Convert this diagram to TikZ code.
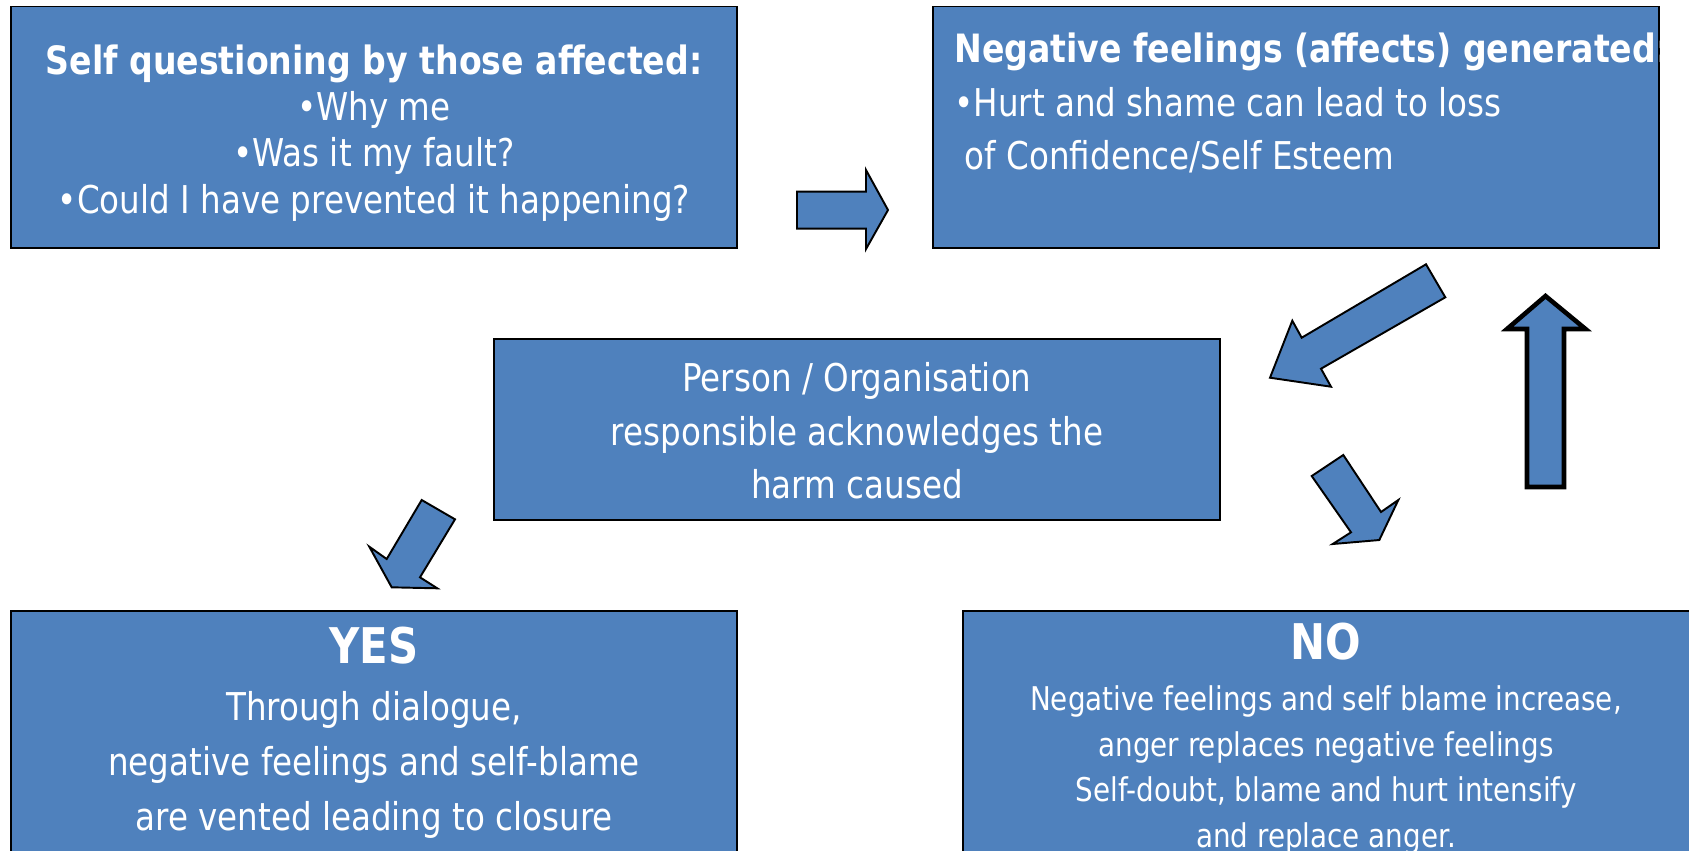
\documentclass[tikz,border=0pt]{standalone}
\usepackage{fontspec}
\setmainfont{DejaVu Sans}[FakeStretch=0.85]
\definecolor{boxblue}{RGB}{79,129,189}
\begin{document}
\begin{tikzpicture}[x=0.02cm,y=-0.02cm]

\tikzset{
    panel/.style={draw=black,fill=boxblue,line width=1.1pt,inner sep=0pt},
    paneltext/.style={text=white,inner sep=0pt,font=\fontsize{21.8}{26.3}\selectfont},
    blockarrow/.style={draw=black,fill=boxblue,line width=1.1pt,line join=miter},
}
\newcommand\headline[1]{{\fontsize{22.2}{26}\selectfont\bfseries #1}}

\useasboundingbox (0,0) rectangle (1689,850);

%% Boxes
\node[panel,minimum width=14.52cm,minimum height=4.83cm] (selfq) at (374,127.25) {};
\node[panel,minimum width=14.52cm,minimum height=4.83cm] (negfeel) at (1296,127.25) {};
\node[panel,minimum width=14.52cm,minimum height=3.62cm] (ack) at (857,429.5) {};
\node[panel,minimum width=14.52cm,minimum height=4.98cm] (yes) at (374,735.5) {};
\node[panel,minimum width=14.64cm,minimum height=4.98cm] (no) at (1329,735.5) {};

%% Texts
\node[paneltext,align=center] (selfqtext) at (374,133) {\headline{Self questioning by those affected:}\\
    •Why me\\ •Was it my fault?\\ •Could I have prevented it happening?};
\node[paneltext,align=left,anchor=west,font=\fontsize{21.8}{30.7}\selectfont] (negtext) at (954,103)
    {\headline{Negative feelings (affects) generated:}\\ •Hurt and shame can lead to loss\\ \hspace*{6pt}of Confidence/Self Esteem};
\node[paneltext,align=center,font=\fontsize{21.8}{30.4}\selectfont] (acktext) at (857,431)
    {Person / Organisation\\ responsible acknowledges the\\ harm caused};
\node[paneltext,font=\fontsize{28}{30}\selectfont\bfseries] (yestitle) at (374,646) {YES};
\node[paneltext,align=center,font=\fontsize{21.8}{31.3}\selectfont] (yestext) at (374,765)
    {Through dialogue,\\ negative feelings and self-blame\\ are vented leading to closure};
\node[paneltext,font=\fontsize{28}{30}\selectfont\bfseries] (notitle) at (1326,642) {NO};
\node[paneltext,align=center,font=\fontsize{18.6}{26.1}\selectfont] (notext) at (1326,770)
    {Negative feelings and self blame increase,\\ anger replaces negative feelings\\
    Self-doubt, blame and hurt intensify\\ and replace anger.};

%% Arrows
\draw[blockarrow] (797,191.7) -- (866,191.7) -- (866,170) -- (888,210) -- (866,249) -- (866,228.7) -- (797,228.7) -- cycle;
\draw[blockarrow] (1426,264.3) -- (1445.3,297.3) -- (1321,368.7) -- (1331,386.7) -- (1270,377.7) -- (1292.3,320.7) -- (1301.7,337.7) -- cycle;
\draw[blockarrow] (1343.3,455) -- (1381,512) -- (1398.3,500) -- (1379.3,540) -- (1332.7,544) -- (1351,532.3) -- (1311.7,476) -- cycle;
\draw[blockarrow] (421.7,500) -- (455,519.3) -- (420,577.3) -- (437.3,588.3) -- (391.7,587.3) -- (369.3,546.7) -- (386.7,559) -- cycle;
\draw[blockarrow,line width=2.6pt] (1527,487) -- (1527,329) -- (1507,329) -- (1545.5,296) -- (1585.5,329) -- (1564,329) -- (1564,487) -- cycle;

\end{tikzpicture}
\end{document}
